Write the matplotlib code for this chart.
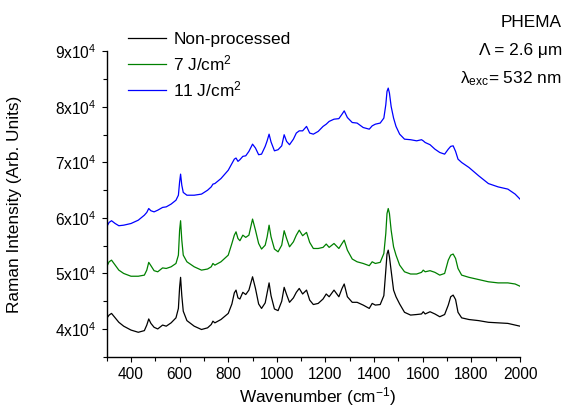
import matplotlib
matplotlib.use('Agg')
import matplotlib.pyplot as plt
from matplotlib.ticker import MultipleLocator, FuncFormatter

plt.rcParams['font.family'] = ['Liberation Sans', 'DejaVu Sans']
plt.rcParams['mathtext.fontset'] = 'custom'
plt.rcParams['mathtext.rm'] = 'Liberation Sans'
plt.rcParams['mathtext.it'] = 'Liberation Sans:italic'
plt.rcParams['mathtext.bf'] = 'Liberation Sans:bold'

# wavenumber (cm-1)
wavenumber = [300, 310, 320, 335, 350, 370, 400, 430, 455, 465,
              473, 482, 495, 510, 530, 545, 565, 585, 595, 600,
              604, 609, 615, 630, 660, 690, 715, 730, 737, 745,
              770, 800, 815, 825, 832, 840, 848, 860, 872, 885,
              900, 912, 925, 937, 952, 960, 968, 976, 990, 1005,
              1020, 1030, 1040, 1052, 1068, 1080, 1092, 1106, 1122, 1135,
              1150, 1170, 1190, 1203, 1215, 1235, 1255, 1268, 1277, 1290,
              1310, 1330, 1355, 1380, 1392, 1405, 1425, 1440, 1448, 1453,
              1458, 1463, 1470, 1480, 1490, 1505, 1525, 1550, 1575, 1595,
              1602, 1610, 1630, 1650, 1670, 1690, 1705, 1715, 1725, 1735,
              1745, 1760, 1790, 1830, 1870, 1910, 1950, 1980, 2000]

non_processed = [41900, 42500, 42800, 42000, 41200, 40500, 39800, 39400, 39700, 40700,
                 41800, 41000, 40300, 40000, 40700, 40500, 41100, 42000, 43700, 47500,
                 49300, 46000, 43200, 41500, 40500, 39900, 40200, 40800, 41400, 41100,
                 41700, 42800, 44500, 46500, 47000, 45600, 45400, 46600, 46200, 47000,
                 49400, 47300, 44500, 43700, 44700, 46500, 48300, 46000, 43600, 43300,
                 45000, 47500, 46200, 44800, 45600, 46600, 47300, 46300, 47000, 45200,
                 44400, 44600, 45400, 46300, 45800, 47000, 45800, 47300, 48100, 45800,
                 44800, 44800, 44300, 43700, 44600, 44300, 44400, 46000, 50500, 53500,
                 54200, 53000, 50500, 47000, 45800, 44500, 43000, 42500, 42600, 42700,
                 43100, 42700, 43100, 42700, 42200, 42600, 44300, 45800, 46100, 45300,
                 43000, 42000, 41700, 41500, 41200, 41100, 41000, 40700, 40500]

fluence_7 = [51200, 52100, 52400, 51500, 50600, 50000, 49500, 49500, 49700, 50600,
             52000, 51400, 50500, 50300, 51000, 50900, 51200, 51800, 53300, 57800,
             59500, 56000, 53300, 52100, 51200, 50600, 50800, 51200, 51800, 51500,
             52100, 53300, 55400, 56900, 57500, 56300, 55900, 56900, 56500, 56900,
             59800, 57800, 55400, 54400, 55100, 56600, 58700, 56600, 54400, 53900,
             55100, 57700, 56300, 54800, 55700, 56900, 57800, 56800, 57400, 55600,
             54500, 54500, 54700, 55300, 54700, 55400, 54500, 55400, 56000, 54200,
             52600, 52100, 51800, 51400, 52100, 51800, 52000, 53600, 57200, 60800,
             61700, 60800, 57800, 54800, 53300, 51500, 50300, 49900, 49900, 50200,
             50600, 50300, 50500, 50200, 49700, 50000, 52400, 53300, 53500, 52700,
             50900, 49700, 49300, 48900, 48500, 48300, 48300, 48100, 47700]

fluence_11 = [58400, 59200, 59500, 59000, 58600, 58700, 59000, 59600, 60500, 61000,
              61700, 61300, 61100, 61400, 61900, 62000, 62500, 63200, 64100, 66500,
              67900, 65900, 64600, 64100, 64100, 64300, 65000, 65600, 66100, 66200,
              67100, 68600, 69800, 70600, 70800, 70200, 70500, 71100, 71200, 72000,
              73300, 72600, 71400, 71500, 72900, 73900, 75100, 73700, 72100, 72300,
              73000, 75000, 73800, 73200, 74200, 75300, 75700, 75700, 76500, 75300,
              75100, 75600, 76500, 76900, 77400, 77800, 77900, 78700, 79300, 78100,
              77200, 77100, 76300, 76000, 76600, 76900, 77100, 78000, 80400, 82800,
              83400, 82500, 80100, 78000, 76500, 75100, 74200, 74100, 73900, 74100,
              73900, 73600, 73200, 72400, 71800, 71500, 72400, 72900, 73000, 72000,
              70600, 70000, 69100, 67600, 66200, 65600, 65200, 64300, 63400]

labels = ['Non-processed', '7 J/cm$^2$', '11 J/cm$^2$']
colors = ['black', '#008000', '#0000ff']

fig = plt.figure(figsize=(5.68, 4.07), dpi=100)
ax = fig.add_axes([0.1878, 0.1236, 0.7277, 0.7499])

for y, lab, c in zip([non_processed, fluence_7, fluence_11], labels, colors):
    ax.plot(wavenumber, y, color=c, lw=0.9, label=lab)

ax.set_xlim(300, 2000)
ax.set_ylim(35000, 90000)

for s in ['top', 'right']:
    ax.spines[s].set_visible(False)
for s in ['left', 'bottom']:
    ax.spines[s].set_linewidth(1.0)

ax.xaxis.set_major_locator(MultipleLocator(200))
ax.xaxis.set_minor_locator(MultipleLocator(100))
ax.yaxis.set_major_locator(MultipleLocator(10000))
ax.yaxis.set_minor_locator(MultipleLocator(5000))
ax.yaxis.set_major_formatter(FuncFormatter(lambda v, p: '%dx10$^{4}$' % round(v / 1e4)))
ax.tick_params(which='both', direction='out', width=0.8, labelsize=11.2)
ax.tick_params(which='major', length=3.8)
ax.tick_params(which='minor', length=3.0)
ax.tick_params(axis='x', pad=3.6)
ax.tick_params(axis='y', pad=3.4)

ax.set_xlabel('Wavenumber (cm$^{-1}$)', fontsize=12.4)
ax.set_ylabel('Raman Intensity (Arb. Units)', fontsize=12.4)
ax.xaxis.set_label_coords(0.51, -0.092)
ax.yaxis.set_label_coords(-0.205, 0.5)

ax.legend(frameon=False, loc='upper left', bbox_to_anchor=(0.226, 0.922),
          bbox_transform=fig.transFigure, fontsize=12.4, handlelength=2.2,
          handletextpad=0.4, labelspacing=0.36, borderpad=0, borderaxespad=0)

fig.text(0.989, 0.933, 'PHEMA', ha='right', va='baseline', fontsize=12.4)
fig.text(0.989, 0.865, 'Λ = 2.6 μm', ha='right', va='baseline', fontsize=12.4)
fig.text(0.989, 0.795, r'λ$_{\mathrm{exc}}$= 532 nm', ha='right', va='baseline', fontsize=12.4)

fig.savefig('out.png', dpi=100)
